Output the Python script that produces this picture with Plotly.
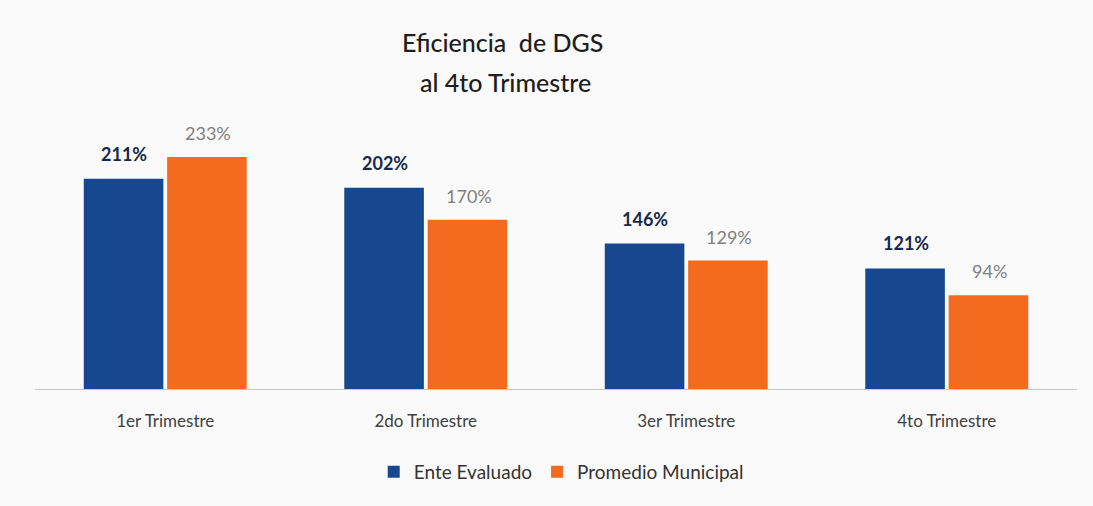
import plotly.graph_objects as go

categories = ["1er Trimestre", "2do Trimestre", "3er Trimestre", "4to Trimestre"]
ente = [211, 202, 146, 121]
promedio = [233, 170, 129, 94]
ente_labels = ["211%", "202%", "146%", "121%"]
prom_labels = ["233%", "170%", "129%", "94%"]
title_lines = ["Eficiencia  de DGS", "al 4to Trimestre"]

FONT = "Lato, 'Open Sans', sans-serif"
BLUE = "#17478f"
ORANGE = "#f46b20"

fig = go.Figure()
fig.add_trace(go.Bar(
    x=categories, y=ente, name="Ente Evaluado",
    marker=dict(color=BLUE, line=dict(width=0)),
))
fig.add_trace(go.Bar(
    x=categories, y=promedio, name="Promedio Municipal",
    marker=dict(color=ORANGE, line=dict(width=0)),
))

annotations = []
for cat, v, lab in zip(categories, ente, ente_labels):
    annotations.append(dict(
        x=cat, y=v, text=lab, showarrow=False, xref="x", yref="y",
        xshift=-41, yshift=25, yanchor="middle",
        font=dict(family=FONT, size=18, color="#152a4e", weight="bold"),
    ))
for cat, v, lab in zip(categories, promedio, prom_labels):
    annotations.append(dict(
        x=cat, y=v, text=lab, showarrow=False, xref="x", yref="y",
        xshift=43, yshift=24, yanchor="middle",
        font=dict(family=FONT, size=18, color="#808080"),
    ))
annotations.append(dict(
    x=502, y=42, xref="paper", yref="paper", text=title_lines[0], showarrow=False,
))
annotations.append(dict(
    x=505, y=82, xref="paper", yref="paper", text=title_lines[1], showarrow=False,
))

W, H = 1093, 506
ML, MR, MT, MB = 35, 16, 130, 117
pw, ph = W - ML - MR, H - MT - MB
for a in annotations[-2:]:
    px, py = a["x"], a["y"]
    a["x"] = (px - ML) / pw
    a["y"] = (H - MB - py) / ph
    a["xanchor"] = "center"
    a["yanchor"] = "middle"
    a["font"] = dict(family=FONT, size=25, color="#1e1e1e", weight=500)

fig.update_layout(
    width=W, height=H,
    paper_bgcolor="#fafafa", plot_bgcolor="#fafafa",
    margin=dict(l=ML, r=MR, t=MT, b=MB),
    barmode="group", bargap=0.36, bargroupgap=0.045,
    annotations=annotations,
    legend=dict(
        orientation="h", x=0.505, xanchor="center", y=(389 - 472) / ph, yanchor="middle",
        font=dict(family=FONT, size=19, color="#333333"),
        traceorder="normal",
    ),
    showlegend=True,
)
fig.update_xaxes(
    showline=True, linecolor="#c8c8c8", linewidth=1,
    ticks="", ticklabelstandoff=17,
    tickfont=dict(family=FONT, size=17, color="#404040"),
)
fig.update_yaxes(range=[0, 260], visible=False, showgrid=False, zeroline=False)

fig.write_html(
    "out.html",
    config={"displayModeBar": False},
    post_script="document.body.style.margin='0';document.body.style.padding='0';",
)
